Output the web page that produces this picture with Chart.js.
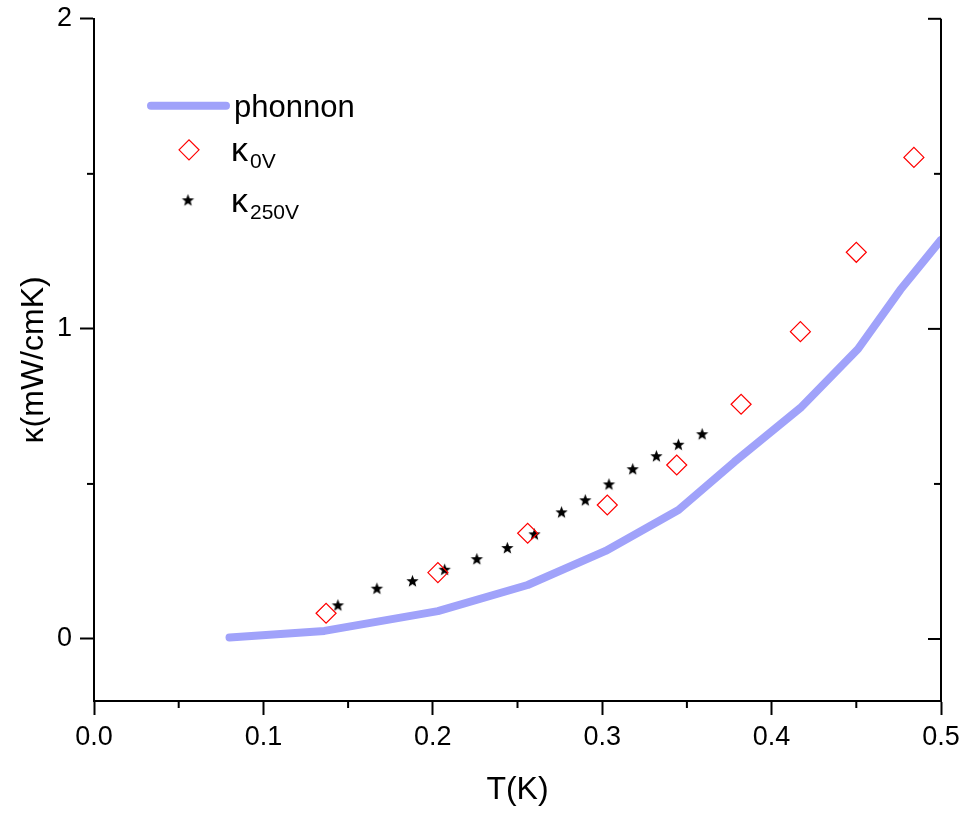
<!DOCTYPE html>
<html lang="en">
<head>
    <meta charset="UTF-8">
    <title>Thermal conductivity vs T</title>
    <script src="https://cdn.jsdelivr.net/npm/chart.js"></script>
    <style>
        body { margin: 0; background: #fff; }
        #wrap { width: 966px; height: 815px; }
    </style>
</head>
<body>
    <div id="wrap"><canvas id="kappaChart" width="966" height="815"></canvas></div>

    <script>
        // phonon contribution (solid line)
        const phononT = [0.080, 0.136, 0.203, 0.256, 0.302, 0.345, 0.378, 0.417, 0.451, 0.476, 0.500];
        const phononK = [0.005, 0.026, 0.090, 0.174, 0.284, 0.416, 0.571, 0.745, 0.935, 1.126, 1.287];

        // kappa at 0 V (open diamonds)
        const k0T = [0.137, 0.203, 0.256, 0.303, 0.344, 0.382, 0.417, 0.450, 0.484];
        const k0K = [0.083, 0.214, 0.341, 0.432, 0.561, 0.757, 0.991, 1.247, 1.553];

        // kappa at 250 V (stars)
        const k250T = [0.144, 0.167, 0.188, 0.207, 0.226, 0.244, 0.260, 0.276, 0.290, 0.304, 0.318, 0.332, 0.345, 0.359];
        const k250K = [0.110, 0.164, 0.188, 0.225, 0.259, 0.295, 0.339, 0.410, 0.449, 0.500, 0.549, 0.591, 0.628, 0.662];

        const xTicks = [0, 0.1, 0.2, 0.3, 0.4, 0.5];
        const xMinor = [0.05, 0.15, 0.25, 0.35, 0.45];
        const yTicks = [0, 1, 2];
        const yMinor = [0.5, 1.5];

        const FONT = '"Liberation Sans", Arial, sans-serif';
        const lineColor = 'rgb(160, 162, 250)';

        function toPoints(xs, ys) {
            return xs.map((x, i) => ({ x: x, y: ys[i] }));
        }

        // filled five point star for the 250V markers
        function makeStar(r) {
            const c = document.createElement('canvas');
            const s = Math.ceil(r * 2 + 2);
            c.width = s; c.height = s;
            const g = c.getContext('2d');
            g.beginPath();
            for (let i = 0; i < 10; i++) {
                const rad = i % 2 === 0 ? r : r * 0.42;
                const a = -Math.PI / 2 + i * Math.PI / 5;
                const px = s / 2 + rad * Math.cos(a);
                const py = s / 2 + rad * Math.sin(a) + r * 0.1;
                if (i === 0) g.moveTo(px, py); else g.lineTo(px, py);
            }
            g.closePath();
            g.fillStyle = '#000';
            g.fill();
            return c;
        }
        const starImg = makeStar(6.5);

        const frameAndLegend = {
            id: 'frameAndLegend',
            afterDraw(chart) {
                const ctx = chart.ctx;
                const area = chart.chartArea;
                const xs = chart.scales.x, ys = chart.scales.y;
                ctx.save();
                ctx.strokeStyle = '#000';
                ctx.lineWidth = 2;
                // right axis line with inward ticks
                ctx.beginPath();
                ctx.moveTo(area.right, area.top);
                ctx.lineTo(area.right, area.bottom + 1);
                ctx.stroke();
                yTicks.forEach(v => {
                    const py = ys.getPixelForValue(v);
                    ctx.beginPath(); ctx.moveTo(area.right, py); ctx.lineTo(area.right - 13, py); ctx.stroke();
                });
                yMinor.forEach(v => {
                    const py = ys.getPixelForValue(v);
                    ctx.beginPath(); ctx.moveTo(area.right, py); ctx.lineTo(area.right - 7, py); ctx.stroke();
                    ctx.beginPath(); ctx.moveTo(area.left, py); ctx.lineTo(area.left - 7, py); ctx.stroke();
                });
                xMinor.forEach(v => {
                    const px = xs.getPixelForValue(v);
                    ctx.beginPath(); ctx.moveTo(px, area.bottom); ctx.lineTo(px, area.bottom + 7); ctx.stroke();
                });

                // legend
                const lx = area.left + 95, ly = area.top + 87;
                ctx.strokeStyle = lineColor;
                ctx.lineWidth = 8;
                ctx.lineCap = 'round';
                ctx.beginPath(); ctx.moveTo(lx - 38, ly); ctx.lineTo(lx + 37, ly); ctx.stroke();

                ctx.strokeStyle = 'red';
                ctx.lineWidth = 1.2;
                ctx.lineCap = 'butt';
                const dy = ly + 44;
                ctx.beginPath();
                ctx.moveTo(lx - 10, dy); ctx.lineTo(lx, dy - 10); ctx.lineTo(lx + 10, dy); ctx.lineTo(lx, dy + 10);
                ctx.closePath(); ctx.stroke();

                const sy = ly + 94;
                ctx.drawImage(starImg, lx - 1 - starImg.width / 2, sy - starImg.height / 2);

                ctx.fillStyle = '#000';
                ctx.textAlign = 'left';
                ctx.textBaseline = 'alphabetic';
                ctx.font = '31px ' + FONT;
                ctx.fillText('phonnon', lx + 45, ly + 11);

                [['0V', dy + 11], ['250V', sy + 12]].forEach(([sub, base]) => {
                    ctx.font = '34px ' + FONT;
                    ctx.fillText('κ', lx + 42, base);
                    ctx.font = '21px ' + FONT;
                    ctx.fillText(sub, lx + 61, base + 7);
                });
                ctx.restore();
            }
        };

        const ctx = document.getElementById('kappaChart').getContext('2d');
        new Chart(ctx, {
            type: 'scatter',
            data: {
                datasets: [
                    {
                        label: 'phonnon',
                        type: 'line',
                        data: toPoints(phononT, phononK),
                        borderColor: lineColor,
                        borderWidth: 8,
                        borderCapStyle: 'round',
                        borderJoinStyle: 'round',
                        pointRadius: 0,
                        fill: false,
                        tension: 0
                    },
                    {
                        label: 'κ0V',
                        data: toPoints(k0T, k0K),
                        pointStyle: 'rectRot',
                        pointRadius: 10,
                        borderColor: 'red',
                        borderWidth: 1.2,
                        backgroundColor: 'rgba(0,0,0,0)'
                    },
                    {
                        label: 'κ250V',
                        data: toPoints(k250T, k250K),
                        pointStyle: starImg,
                        pointRadius: 6
                    }
                ]
            },
            options: {
                responsive: false,
                animation: false,
                layout: { padding: { top: 18, right: 25, left: 0, bottom: 0 } },
                plugins: {
                    legend: { display: false },
                    tooltip: { enabled: false }
                },
                scales: {
                    x: {
                        type: 'linear',
                        min: 0,
                        max: 0.5,
                        afterBuildTicks: s => { s.ticks = xTicks.map(v => ({ value: v })); },
                        afterFit: s => { s.height = 114; },
                        grid: { drawOnChartArea: false, tickLength: 14, tickWidth: 2, tickColor: '#000' },
                        border: { color: '#000', width: 2 },
                        ticks: {
                            color: '#000',
                            font: { family: FONT, size: 27 },
                            padding: 6,
                            maxRotation: 0,
                            callback: v => v.toFixed(1)
                        },
                        title: {
                            display: true,
                            text: 'T(K)',
                            color: '#000',
                            font: { family: FONT, size: 32 },
                            padding: { top: 0, bottom: 6 }
                        }
                    },
                    y: {
                        type: 'linear',
                        min: -0.2,
                        max: 2,
                        afterBuildTicks: s => { s.ticks = yTicks.map(v => ({ value: v })); },
                        afterFit: s => { s.width = 94; },
                        grid: { drawOnChartArea: false, tickLength: 14, tickWidth: 2, tickColor: '#000' },
                        border: { color: '#000', width: 2 },
                        ticks: {
                            color: '#000',
                            font: { family: FONT, size: 27, lineHeight: 0.8 },
                            padding: 8,
                            callback: v => String(v)
                        },
                        title: {
                            display: true,
                            text: 'κ(mW/cmK)',
                            color: '#000',
                            font: { family: FONT, size: 32 },
                            padding: { top: 15, bottom: 0 }
                        }
                    }
                }
            },
            plugins: [frameAndLegend]
        });
    </script>
</body>
</html>
